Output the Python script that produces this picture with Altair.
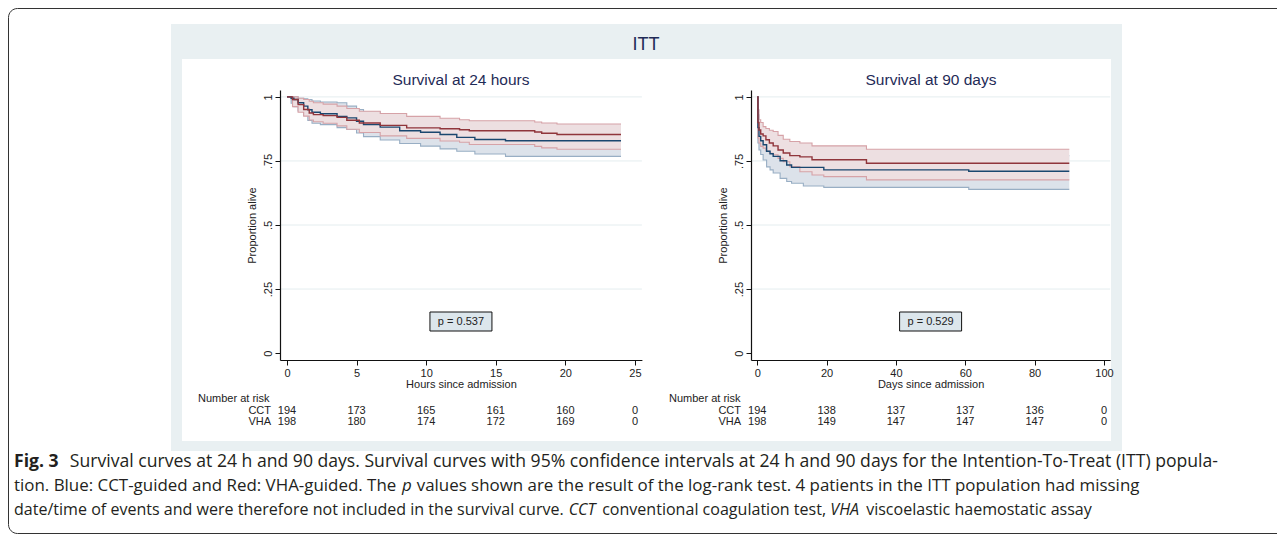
import altair as alt
import pandas as pd

W, H = 1269, 526  # drawing canvas (page minus 8px margins)

# ---------------- data ----------------
# Survival at 24 hours (time in hours)
H24_CCT_T = [0, 0.3, 0.5, 0.8, 1.2, 1.5, 1.8, 2.4, 3.6, 4.3, 5.0, 5.5, 6.7, 8.1, 9.6, 11.0, 12.2, 13.5, 15.7, 24]
H24_CCT_S = [1.0, 0.995, 0.990, 0.977, 0.964, 0.950, 0.940, 0.934, 0.924, 0.918, 0.905, 0.892, 0.882, 0.868, 0.862, 0.853, 0.842, 0.834, 0.829, 0.829]
H24_CCT_LO = [1.0, 0.975, 0.962, 0.945, 0.928, 0.908, 0.897, 0.892, 0.880, 0.873, 0.859, 0.845, 0.832, 0.818, 0.808, 0.797, 0.788, 0.777, 0.768, 0.768]
H24_CCT_HI = [1.0, 1.0, 1.0, 0.995, 0.993, 0.990, 0.984, 0.980, 0.977, 0.964, 0.951, 0.942, 0.934, 0.920, 0.914, 0.905, 0.895, 0.888, 0.882, 0.882]

H24_VHA_T = [0, 0.4, 0.8, 1.2, 1.6, 1.9, 2.6, 3.6, 4.3, 5.2, 6.7, 8.6, 11.0, 12.4, 13.1, 17.8, 18.3, 19.4, 24]
H24_VHA_S = [1.0, 0.990, 0.970, 0.951, 0.937, 0.931, 0.927, 0.920, 0.909, 0.898, 0.889, 0.879, 0.876, 0.872, 0.868, 0.863, 0.858, 0.853, 0.853]
H24_VHA_LO = [1.0, 0.962, 0.940, 0.925, 0.910, 0.903, 0.897, 0.887, 0.874, 0.861, 0.848, 0.838, 0.828, 0.823, 0.814, 0.807, 0.801, 0.796, 0.796]
H24_VHA_HI = [1.0, 1.0, 0.995, 0.990, 0.983, 0.977, 0.972, 0.964, 0.955, 0.944, 0.935, 0.924, 0.917, 0.911, 0.907, 0.902, 0.898, 0.894, 0.894]

# Survival at 90 days (time in days)
D90_CCT_T = [0, 0.2, 0.5, 1.0, 1.7, 2.7, 3.7, 4.6, 6.6, 8.5, 9.9, 13.3, 19.2, 61, 90]
D90_CCT_S = [1.0, 0.88, 0.846, 0.829, 0.813, 0.788, 0.778, 0.768, 0.751, 0.734, 0.725, 0.725, 0.715, 0.710, 0.710]
D90_CCT_LO = [1.0, 0.82, 0.793, 0.775, 0.754, 0.727, 0.715, 0.703, 0.682, 0.670, 0.663, 0.652, 0.647, 0.639, 0.639]
D90_CCT_HI = [1.0, 0.93, 0.895, 0.878, 0.862, 0.840, 0.830, 0.822, 0.807, 0.792, 0.784, 0.784, 0.775, 0.771, 0.771]

D90_VHA_T = [0, 0.2, 0.5, 1.0, 1.7, 2.5, 3.5, 4.6, 6.0, 7.5, 9.4, 12.3, 15.8, 19.2, 31.5, 90]
D90_VHA_S = [1.0, 0.90, 0.871, 0.855, 0.848, 0.833, 0.820, 0.809, 0.793, 0.781, 0.771, 0.766, 0.755, 0.755, 0.741, 0.741]
D90_VHA_LO = [1.0, 0.84, 0.820, 0.807, 0.800, 0.789, 0.780, 0.774, 0.760, 0.747, 0.728, 0.708, 0.695, 0.689, 0.676, 0.676]
D90_VHA_HI = [1.0, 0.95, 0.911, 0.900, 0.884, 0.877, 0.870, 0.865, 0.850, 0.835, 0.826, 0.820, 0.809, 0.809, 0.796, 0.796]

# Number at risk tables
RISK_T_H = [0, 5, 10, 15, 20, 25]
RISK_CCT_H = [194, 173, 165, 161, 160, 0]
RISK_VHA_H = [198, 180, 174, 172, 169, 0]
RISK_T_D = [0, 20, 40, 60, 80, 100]
RISK_CCT_D = [194, 138, 137, 137, 136, 0]
RISK_VHA_D = [198, 149, 147, 147, 147, 0]

X_TICKS_H = [0, 5, 10, 15, 20, 25]
X_TICKS_D = [0, 20, 40, 60, 80, 100]
Y_TICKS = [0, 0.25, 0.5, 0.75, 1]
Y_TICK_LABELS = ["0", ".25", ".5", ".75", "1"]
GRID_VALUES = [0.25, 0.5, 0.75, 1]

MAIN_TITLE = "ITT"
PANEL_TITLES = ["Survival at 24 hours", "Survival at 90 days"]
X_TITLES = ["Hours since admission", "Days since admission"]
Y_TITLE = "Proportion alive"
P_TEXTS = ["p = 0.537", "p = 0.529"]
GROUPS = ["CCT", "VHA"]

# caption: (text, bold, italic) segments per line, and the right edge each line reaches
CAPTION = [
    [("Fig. 3", True, False), ("Survival curves at 24 h and 90 days. Survival curves with 95% confidence intervals at 24 h and 90 days for the Intention-To-Treat (ITT) popula-", False, False)],
    [("tion. Blue: CCT-guided and Red: VHA-guided. The", False, False), ("p", False, True), ("values shown are the result of the log-rank test. 4 patients in the ITT population had missing", False, False)],
    [("date/time of events and were therefore not included in the survival curve.", False, False), ("CCT", False, True), ("conventional coagulation test,", False, False), ("VHA", False, True), ("viscoelastic haemostatic assay", False, False)],
]
CAPTION_RIGHT = [1277, 1141, 1092]

# ---------------- styling ----------------
FONT = "Liberation Sans"
CAP_FONT = "Open Sans"
BLUE = "#1a476f"
RED = "#90353b"
BLUE_FILL = "#dce2ea"
BLUE_EDGE = "#98aec4"
RED_FILL = "#eddfe1"
RED_EDGE = "#d6a2a7"
TITLE_COL = "#1f2b57"
TXT = "#222222"
PANEL_BG = "#e9f0f2"
GRID = "#e4edef"

OFF = 8  # page margin: page px -> canvas px
def cx(p):
    return p - OFF

Y_DOM = [-0.027, 1.027]
Y_RANGE = [cx(360), cx(90)]

dummy = pd.DataFrame({"a": [0]})


def vrect(x, x2, y, y2, **kw):
    return alt.Chart(dummy).mark_rect(**kw).encode(
        x=alt.value(x), x2=alt.value(x2), y=alt.value(y), y2=alt.value(y2))


def vtext(x, y, text, **kw):
    return alt.Chart(dummy).mark_text(text=text, **kw).encode(x=alt.value(x), y=alt.value(y))


y_label_expr = " : ".join(
    f"datum.value == {v} ? '{l}'" for v, l in zip(Y_TICKS, Y_TICK_LABELS)) + " : ''"


def panel(cct, vha, xdom, xrange, xticks, xtitle, ptext, rt, rc, rv, x_nar, x_grp):
    def xs():
        return alt.Scale(domain=xdom, range=xrange, nice=False, zero=False)

    def ys():
        return alt.Scale(domain=Y_DOM, range=Y_RANGE, nice=False, zero=False)

    dc = pd.DataFrame({"t": cct[0], "s": cct[1], "lo": cct[2], "hi": cct[3]})
    dv = pd.DataFrame({"t": vha[0], "s": vha[1], "lo": vha[2], "hi": vha[3]})

    xaxis = alt.Axis(orient="bottom", values=xticks, title=xtitle, offset=-(H - Y_RANGE[0]),
                     domainColor="#111", domainWidth=1.2, tickColor="#111", tickSize=5,
                     labelFont=FONT, labelFontSize=11, labelColor=TXT, labelPadding=2,
                     titleFont=FONT, titleFontSize=11, titleFontWeight="normal", titleColor=TXT,
                     titlePadding=0, grid=False, labelFlush=False, zindex=2)
    yaxis = alt.Axis(orient="left", values=Y_TICKS, title=Y_TITLE, offset=-xrange[0],
                     labelExpr=y_label_expr, labelAngle=270, labelAlign="center",
                     labelBaseline="bottom", domainColor="#111", domainWidth=1.2,
                     tickColor="#111", tickSize=5, labelFont=FONT, labelFontSize=11,
                     labelColor=TXT, labelPadding=2, titleFont=FONT, titleFontSize=11,
                     titleFontWeight="normal", titleColor=TXT, titlePadding=5,
                     grid=False, labelFlush=False, zindex=2)

    grid = alt.Chart(pd.DataFrame({"v": GRID_VALUES})).mark_rule(color=GRID, strokeWidth=1).encode(
        y=alt.Y("v:Q", scale=ys(), axis=None), x=alt.value(xrange[0]), x2=alt.value(xrange[1]))

    def area(d, fill, axes=False):
        return alt.Chart(d).mark_area(interpolate="step-after", color=fill, opacity=1).encode(
            x=alt.X("t:Q", scale=xs(), axis=xaxis if axes else None),
            y=alt.Y("lo:Q", scale=ys(), axis=yaxis if axes else None),
            y2="hi:Q")

    def line(d, field, color, width):
        return alt.Chart(d).mark_line(interpolate="step-after", color=color, strokeWidth=width).encode(
            x=alt.X("t:Q", scale=xs(), axis=None),
            y=alt.Y(f"{field}:Q", scale=ys(), axis=None))

    risk = pd.DataFrame({"t": rt + rt, "n": rc + rv, "g": ["CCT"] * len(rt) + ["VHA"] * len(rt)})
    risk_layers = []
    for g, yy in zip(GROUPS, [cx(411), cx(422)]):
        risk_layers.append(
            alt.Chart(risk).transform_filter(alt.datum.g == g).mark_text(
                font=FONT, fontSize=11, color=TXT, baseline="middle", align="center").encode(
                x=alt.X("t:Q", scale=xs(), axis=None), y=alt.value(yy), text="n:N"))

    mid = (xrange[0] + xrange[1]) / 2
    deco = [
        vrect(mid - 31, mid + 31, cx(312), cx(331), fill="#dce6ec", stroke="#111", strokeWidth=1),
        vtext(mid, cx(322), ptext, font=FONT, fontSize=11, color=TXT, baseline="middle"),
        vtext(x_nar, cx(399), "Number at risk", font=FONT, fontSize=11, color=TXT, align="left", baseline="middle"),
        vtext(x_grp, cx(411), GROUPS[0], font=FONT, fontSize=11, color=TXT, align="right", baseline="middle"),
        vtext(x_grp, cx(422), GROUPS[1], font=FONT, fontSize=11, color=TXT, align="right", baseline="middle"),
    ]
    return [
        grid,
        area(dc, BLUE_FILL, axes=True),
        line(dc, "lo", BLUE_EDGE, 1.1),
        line(dc, "hi", BLUE_EDGE, 1.1),
        area(dv, RED_FILL),
        line(dv, "lo", RED_EDGE, 1.1),
        line(dv, "hi", RED_EDGE, 1.1),
        line(dc, "s", BLUE, 1.4),
        line(dv, "s", RED, 1.4),
    ] + risk_layers + deco


left = panel((H24_CCT_T, H24_CCT_S, H24_CCT_LO, H24_CCT_HI),
             (H24_VHA_T, H24_VHA_S, H24_VHA_LO, H24_VHA_HI),
             [-0.5, 25.5], [cx(280), cx(641.9)], X_TICKS_H, X_TITLES[0], P_TEXTS[0],
             RISK_T_H, RISK_CCT_H, RISK_VHA_H, cx(198), cx(271))
right = panel((D90_CCT_T, D90_CCT_S, D90_CCT_LO, D90_CCT_HI),
              (D90_VHA_T, D90_VHA_S, D90_VHA_LO, D90_VHA_HI),
              [-1.8, 101.8], [cx(751), cx(1110.2)], X_TICKS_D, X_TITLES[1], P_TEXTS[1],
              RISK_T_D, RISK_CCT_D, RISK_VHA_D, cx(669), cx(741))

background = [
    vrect(0.5, W + 20, 0.5, H - 0.5, fill="white", stroke="#333", strokeWidth=1, cornerRadius=9),
    vrect(cx(171), cx(1122), cx(24), cx(451), fill=PANEL_BG),
    vrect(cx(182), cx(1111), cx(59), cx(441), fill="white"),
    vtext(cx(646), cx(45), MAIN_TITLE, font=FONT, fontSize=18, color=TITLE_COL, baseline="middle"),
    vtext(cx(461), cx(80), PANEL_TITLES[0], font=FONT, fontSize=15.5, color=TITLE_COL, baseline="middle"),
    vtext(cx(931), cx(80), PANEL_TITLES[1], font=FONT, fontSize=15.5, color=TITLE_COL, baseline="middle"),
]

# approximate Open Sans advance widths (em) used only to lay caption segments side by side
_W = {" ": .26, ".": .266, ",": .245, ":": .266, "-": .322, "/": .367, "(": .291, ")": .291, "%": .823,
      "a": .556, "b": .613, "c": .476, "d": .613, "e": .561, "f": .339, "g": .548, "h": .614, "i": .253,
      "j": .253, "k": .525, "l": .253, "m": .93, "n": .614, "o": .604, "p": .613, "q": .613, "r": .408,
      "s": .477, "t": .353, "u": .614, "v": .501, "w": .778, "x": .524, "y": .501, "z": .477,
      "A": .633, "B": .648, "C": .631, "D": .729, "E": .549, "F": .518, "G": .728, "H": .742, "I": .303,
      "L": .541, "M": .903, "N": .76, "O": .781, "P": .593, "R": .615, "S": .551, "T": .562, "V": .596}


def em(s, bold=False):
    return sum(_W.get(c, .572) for c in s) * (1.08 if bold else 1.0)


cap_layers = []
for i, segs in enumerate(CAPTION):
    total = sum(em(t, b) for t, b, _ in segs) + _W[" "] * (len(segs) - 1) + (0.3 if i == 0 else 0)
    size = min(17.6, (CAPTION_RIGHT[i] - 14) / total)
    xpos = 14
    yy = cx(462 + 24 * i)
    for j, (text, bold, ital) in enumerate(segs):
        cap_layers.append(vtext(cx(xpos), yy, text, font=CAP_FONT, fontSize=size, color="#231f20",
                                align="left", baseline="middle",
                                fontWeight="bold" if bold else "normal",
                                fontStyle="italic" if ital else "normal"))
        xpos += (em(text, bold) + _W[" "] + (0.3 if (i == 0 and j == 0) else 0)) * size

chart = alt.layer(*background, *left, *right, *cap_layers).resolve_scale(
    x="independent", y="independent"
).properties(
    width=W, height=H, autosize=alt.AutoSizeParams(type="none"), padding=0
).configure_view(strokeWidth=0)

chart.save("out.html", embed_options={"renderer": "svg", "actions": False})
